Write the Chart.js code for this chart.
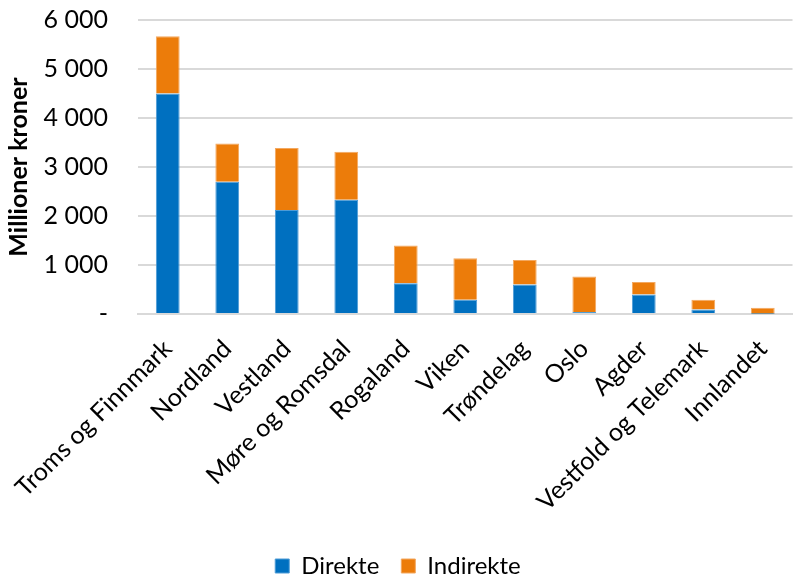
<!DOCTYPE html>
<html>
<head>
<style>
  * { margin: 0; padding: 0; box-sizing: border-box; }
  body { background: #ffffff; overflow: hidden; }
  .chartBox { width: 796px; height: 576px; overflow: hidden; }
</style>
</head>
<body>
<div class="chartBox">
  <canvas id="myChart" width="796" height="588"></canvas>
</div>
<script src="https://cdn.jsdelivr.net/npm/chart.js/dist/chart.umd.min.js"></script>
<script>
// data
const regions = ['Troms og Finnmark', 'Nordland', 'Vestland', 'Møre og Romsdal', 'Rogaland', 'Viken',
  'Trøndelag', 'Oslo', 'Agder', 'Vestfold og Telemark', 'Innlandet'];
const direkte = [4500, 2700, 2120, 2330, 630, 290, 600, 40, 400, 90, 5];
const indirekte = [1170, 780, 1270, 980, 770, 850, 500, 725, 255, 200, 125];
const yTicks = [0, 1000, 2000, 3000, 4000, 5000, 6000];

const fontFam = 'Lato, "Noto Sans", sans-serif';
Chart.defaults.font.family = fontFam;
Chart.defaults.color = '#000000';

function fmt(v) {
  if (v === 0) return '-';
  return String(v).replace(/\B(?=(\d{3})+(?!\d))/g, ' ');
}

const config = {
  type: 'bar',
  data: {
    labels: regions,
    datasets: [
      { label: 'Direkte', data: direkte, backgroundColor: '#0070c0', borderColor: '#4d9bd6', borderWidth: 1 },
      { label: 'Indirekte', data: indirekte, backgroundColor: '#ec7c0a', borderColor: '#f3a860', borderWidth: 1 }
    ]
  },
  options: {
    responsive: false,
    animation: false,
    layout: { padding: { top: 0, right: 0, left: 0, bottom: 0 } },
    datasets: { bar: { barPercentage: 0.4, categoryPercentage: 1 } },
    scales: {
      x: {
        stacked: true,
        grid: { display: false },
        border: { color: '#d9d9d9', width: 2 },
        ticks: { minRotation: 45, maxRotation: 45, font: { size: 25 }, padding: 12 },
        afterFit: s => { s.height = 218; s.paddingTop = 0; }
      },
      y: {
        stacked: true,
        min: 0, max: 6000,
        afterBuildTicks: axis => { axis.ticks = yTicks.map(v => ({ value: v })); },
        grid: { color: '#d9d9d9', lineWidth: 2, drawTicks: false },
        border: { display: false },
        ticks: { font: { size: 25 }, padding: 30, callback: v => fmt(v) },
        title: { display: true, text: 'Millioner kroner', font: { size: 25, weight: 'bold' }, padding: { top: 4, bottom: 0 } },
        afterFit: s => { s.width = 138; s.paddingTop = 20; }
      }
    },
    plugins: {
      tooltip: { enabled: false },
      legend: {
        position: 'bottom',
        labels: { boxWidth: 14, boxHeight: 14, font: { size: 24 }, padding: 22 }
      }
    }
  }
};

const myChart = new Chart(document.getElementById('myChart'), config);
</script>
</body>
</html>
